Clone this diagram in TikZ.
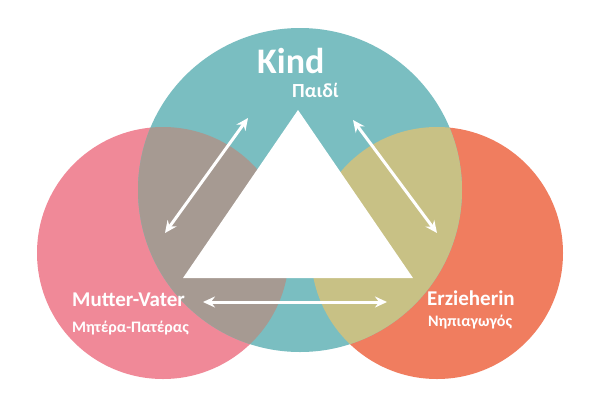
\documentclass[tikz,border=0pt]{standalone}
\usepackage{fontspec}
\setmainfont{Carlito}
\usetikzlibrary{arrows.meta}
\definecolor{kindteal}{RGB}{122,190,193}
\definecolor{elternpink}{RGB}{240,137,152}
\definecolor{erzorange}{RGB}{240,125,95}
\definecolor{mixbrown}{RGB}{166,154,146}
\definecolor{mixolive}{RGB}{200,193,133}

\begin{document}
\begin{tikzpicture}[x=1pt,y=-1pt,
    twoway/.style={{Stealth[length=12pt,width=11pt,inset=4pt]}-{Stealth[length=12pt,width=11pt,inset=4pt]}, line width=3pt, white},
    bigname/.style={white, anchor=base west, inner sep=0pt, font=\bfseries\fontsize{21}{21}\selectfont},
    smallname/.style={white, anchor=base west, inner sep=0pt, font=\bfseries\fontsize{16}{16}\selectfont}]
    \useasboundingbox (0,0) rectangle (600,400);
    \fill[white] (0,0) rectangle (600,400);

    \coordinate (ckind) at (300,190);
    \coordinate (cparent) at (163,253);
    \coordinate (cteacher) at (437,253);
    \fill[elternpink] (cparent) circle[radius=126pt];
    \fill[erzorange] (cteacher) circle[radius=126pt];
    \fill[kindteal] (ckind) circle[radius=162pt];
    \begin{scope}
        \clip (ckind) circle[radius=162pt];
        \fill[mixbrown] (cparent) circle[radius=126pt];
        \fill[mixolive] (cteacher) circle[radius=126pt];
    \end{scope}

    \coordinate (tri1) at (298,110);
    \coordinate (tri2) at (183,278);
    \coordinate (tri3) at (413,278);
    \fill[white] (tri1) -- (tri2) -- (tri3) -- cycle;

    \node[white, anchor=base west, inner sep=0pt, font=\bfseries\fontsize{36}{36}\selectfont] (kind) at (257,73) {Kind};
    \node[white, anchor=base west, inner sep=0pt, font=\bfseries\fontsize{20}{20}\selectfont] (paidi) at (292,97) {Παιδί};
    \node[bigname] (parent) at (72,306) {Mutter-Vater};
    \node[smallname] (goneis) at (72,332) {Μητέρα-Πατέρας};
    \node[bigname] (teacher) at (427,305) {Erzieherin};
    \node[smallname] (nipiagogos) at (428,326) {Νηπιαγωγός};

    \coordinate (parentup) at (165,233);
    \coordinate (kindleft) at (248,118);
    \coordinate (kindright) at (353,120);
    \coordinate (teacherup) at (437,233);
    \coordinate (parentright) at (203,302);
    \coordinate (teacherleft) at (387,302);
    \draw[twoway] (parentup) -- (kindleft);
    \draw[twoway] (kindright) -- (teacherup);
    \draw[twoway] (parentright) -- (teacherleft);
\end{tikzpicture}
\end{document}
